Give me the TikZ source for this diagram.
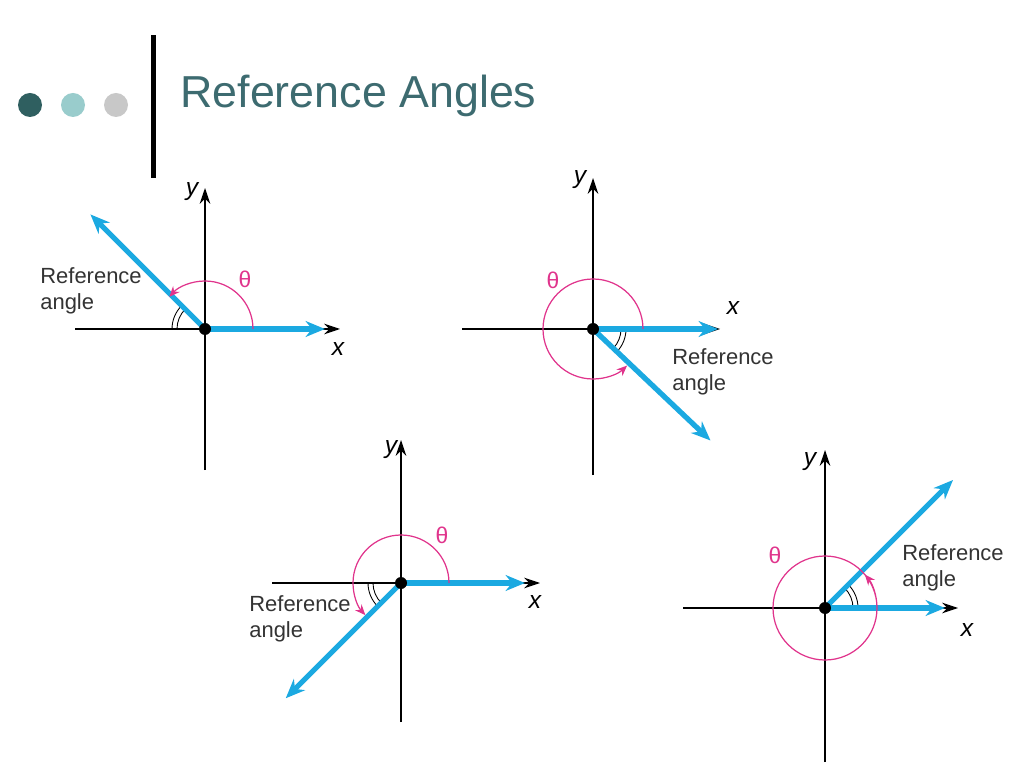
\documentclass[tikz,border=0pt]{standalone}
\usepackage{fontspec}
\setmainfont{Liberation Sans}
\usetikzlibrary{positioning}
\usetikzlibrary{arrows.meta}
\definecolor{rayblue}{HTML}{1BA9E1}
\definecolor{thetapink}{HTML}{E0348C}
\definecolor{titleteal}{HTML}{3D6B70}
\definecolor{dotdark}{HTML}{2F5F60}
\definecolor{dotlight}{HTML}{99CCCC}
\definecolor{dotgray}{HTML}{C8C8C8}
\tikzset{
  axis/.style={black, line width=0.7pt, -{Stealth[length=9pt,width=6pt]}},
  ray/.style={rayblue, line width=3pt, -{Stealth[length=11pt,width=9pt]}},
  thetaarc/.style={thetapink, line width=0.7pt, -{Stealth[length=6pt,width=5pt]}},
  refarc/.style={black, line width=0.5pt},
  lbl/.style={font=\fontsize{12.5}{15}\selectfont, text=black!80, align=left, inner sep=0pt},
  thetalbl/.style={font=\fontsize{13}{15}\selectfont, text=thetapink, inner sep=0pt},
  axlbl/.style={font=\fontsize{14}{16}\selectfont\itshape, inner sep=0pt}
}
\begin{document}
\begin{tikzpicture}[x=0.02cm, y=0.02cm]
\useasboundingbox (0,0) rectangle (1024,768);

% header
\fill[dotdark] (30,663) circle [radius=12];
\fill[dotlight] (73,663) circle [radius=12];
\fill[dotgray] (116,663) circle [radius=12];
\fill[black] (151,590) rectangle (156,733);
\node[anchor=west, text=titleteal, font=\fontsize{25.5}{30}\selectfont, inner sep=0pt] (title) at (180,672) {Reference Angles};

% quadrant II
\begin{scope}[shift={(205,439)}]{
\coordinate (O1) at (0,0);
\draw[axis] (-130,0) -- (135,0);
\draw[axis] (0,-141) -- (0,141);
\draw[refarc] (-28,0) arc [start angle=180, end angle=135, radius=28];
\draw[refarc] (-33,0) arc [start angle=180, end angle=135, radius=33];
\draw[ray] (O1) -- (135:162);
\draw[ray] (O1) -- (120,0);
\draw[thetaarc] (48,0) arc [start angle=0, end angle=138, radius=48];
\fill (O1) circle [radius=6];
\node[thetalbl] (t1) at (40,50) {θ};
\node[lbl, anchor=west] (r1) at (-165,38) {Reference\\angle};
\node[axlbl] (x1) at (133,-20) {x};
\node[axlbl] (y1) at (-13,137) {y};
} \end{scope}

% quadrant IV
\begin{scope}[shift={(593,439)}]{
\coordinate (O2) at (0,0);
\draw[axis] (-131,0) -- (127,0);
\draw[axis] (0,-146) -- (0,151);
\draw[refarc] (28,0) arc [start angle=0, end angle=-43.5, radius=28];
\draw[refarc] (33,0) arc [start angle=0, end angle=-43.5, radius=33];
\draw[ray] (O2) -- (-43.5:162);
\draw[ray] (O2) -- (125,0);
\draw[thetaarc] (50,0) arc [start angle=0, end angle=313, radius=50];
\fill (O2) circle [radius=6];
\node[thetalbl] (t2) at (-40,49) {θ};
\node[lbl, anchor=west] (r2) at (79,-43) {Reference\\angle};
\node[axlbl] (x2) at (140,21) {x};
\node[axlbl] (y2) at (-13,149) {y};
} \end{scope}

% quadrant III
\begin{scope}[shift={(401,185)}]{
\coordinate (O3) at (0,0);
\draw[axis] (-129,0) -- (139,0);
\draw[axis] (0,-139) -- (0,143);
\draw[refarc] (-28,0) arc [start angle=180, end angle=225, radius=28];
\draw[refarc] (-33,0) arc [start angle=180, end angle=225, radius=33];
\draw[ray] (O3) -- (225:163);
\draw[ray] (O3) -- (124,0);
\draw[thetaarc] (48,0) arc [start angle=0, end angle=222, radius=48];
\fill (O3) circle [radius=6];
\node[thetalbl] (t3) at (41,48) {θ};
\node[lbl, anchor=west] (r3) at (-152,-36) {Reference\\angle};
\node[axlbl] (x3) at (134,-19) {x};
\node[axlbl] (y3) at (-10,133) {y};
} \end{scope}

% quadrant I
\begin{scope}[shift={(825,160)}]{
\coordinate (O4) at (0,0);
\draw[axis] (-142,0) -- (133,0);
\draw[axis] (0,-154) -- (0,158);
\draw[refarc] (28,0) arc [start angle=0, end angle=45, radius=28];
\draw[refarc] (33,0) arc [start angle=0, end angle=45, radius=33];
\draw[ray] (O4) -- (45:181);
\draw[ray] (O4) -- (120,0);
\draw[thetaarc] (52,0) arc [start angle=0, end angle=400, radius=52];
\fill (O4) circle [radius=6];
\node[thetalbl] (t4) at (-50,53) {θ};
\node[lbl, anchor=west] (r4) at (77,40) {Reference\\angle};
\node[axlbl] (x4) at (142,-22) {x};
\node[axlbl] (y4) at (-15,146) {y};
} \end{scope}

\end{tikzpicture}
\end{document}
